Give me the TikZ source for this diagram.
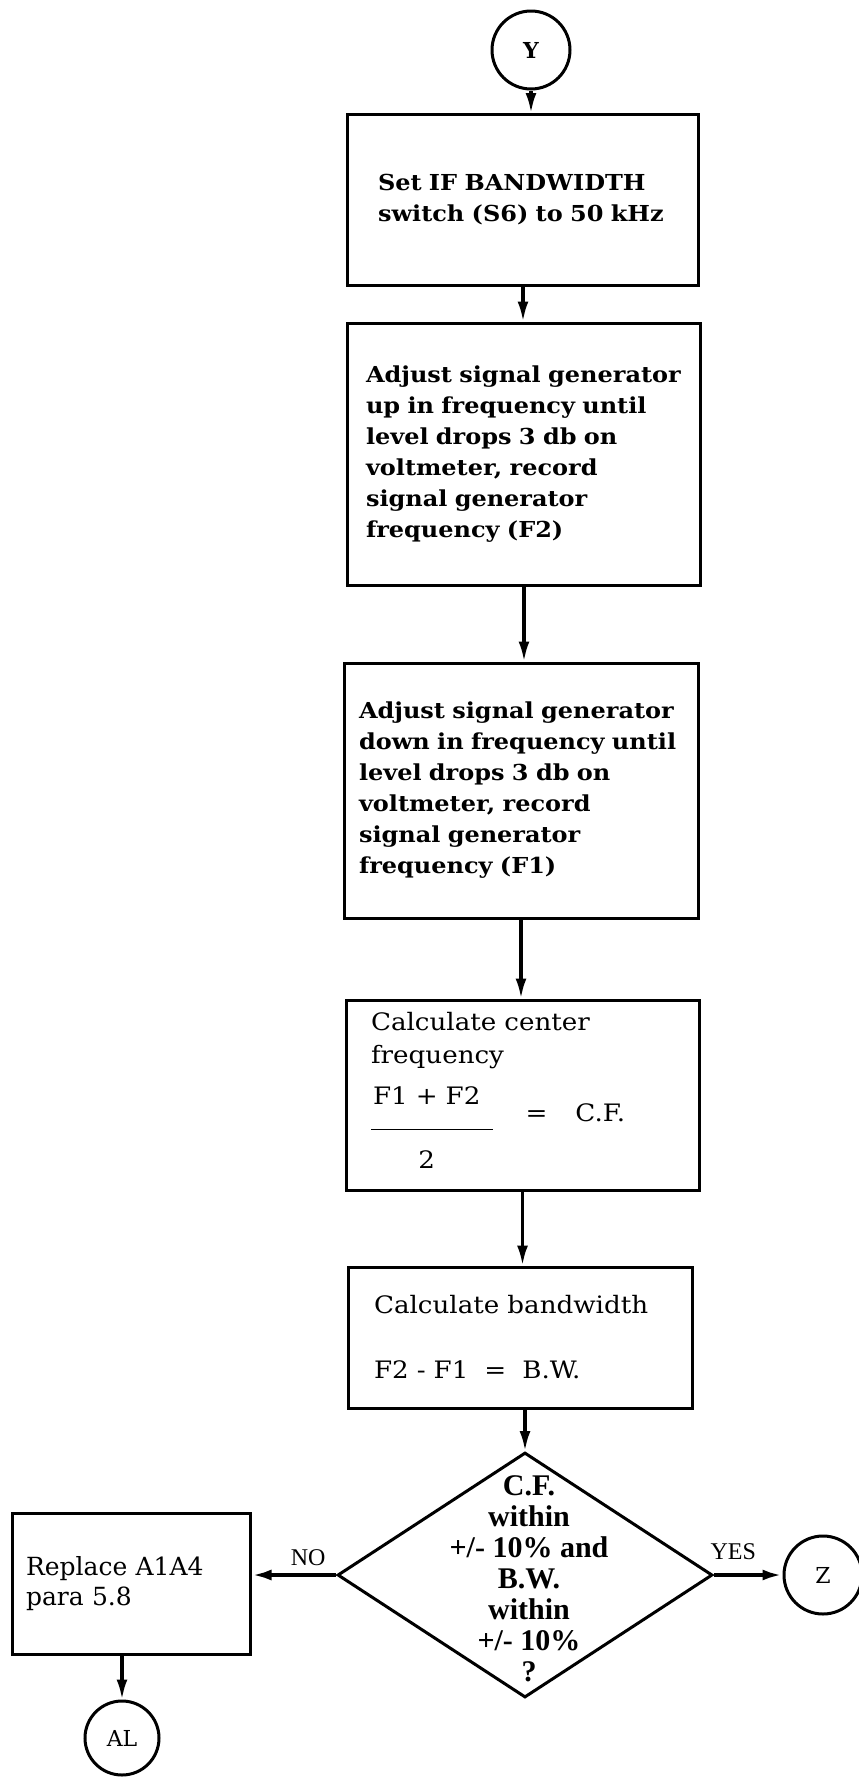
\documentclass[tikz,border=0pt]{standalone}
\usepackage{fontspec}
\setmainfont{DejaVu Serif}
\newfontfamily\widefont[FakeStretch=1.09]{DejaVu Serif}
\newfontfamily\timesfont{Liberation Serif}
\usetikzlibrary{shapes.geometric, arrows.meta}
\tikzset{
	process/.style={rectangle, draw=black, line width=1.5pt, align=left, inner sep=0pt, font=\widefont\bfseries\fontsize{11}{15.5}\selectfont},
	calcbox/.style={process, font=\widefont\fontsize{12}{16.5}\selectfont},
	decision/.style={diamond, draw=black, line width=1.5pt, inner sep=0pt},
	connector/.style={circle, draw=black, line width=1.5pt, inner sep=0pt, font=\bfseries\fontsize{11}{13}\selectfont},
	arrow/.style={line width=1.6pt,->,>={Latex[length=10pt,width=5.5pt]}},
	thickarrow/.style={arrow, line width=2.2pt}
}
\usetikzlibrary{positioning}

\begin{document}
\begin{tikzpicture}[x=0.5pt, y=-0.5pt]
		\useasboundingbox (0,0) rectangle (858,1778);
		
		% Conector de entrada
		\node[connector, minimum size=39pt] (y) at (531,50) {Y};
		
		% Passos do procedimento
		\node[process, minimum width=175.5pt, minimum height=85.5pt, text width=145pt] (setbw) at (523,200) {Set IF BANDWIDTH\\ switch (S6) to 50 kHz};
		\node[process, minimum width=176.5pt, minimum height=131pt, text width=158pt] (upf) at (524,454) {Adjust signal generator\\ up in frequency until\\ level drops 3 db on\\ voltmeter, record\\ signal generator\\ frequency (F2)};
		\node[process, minimum width=177pt, minimum height=127.5pt, text width=162pt] (downf) at (521,790.5) {Adjust signal generator\\ down in frequency until\\ level drops 3 db on\\ voltmeter, record\\ signal generator\\ frequency (F1)};
		\node[calcbox, minimum width=176.5pt, minimum height=95pt, text width=151.5pt] (calccf) at (522.5,1095) {Calculate center\\ frequency\\[4pt]
			\begin{tabular}[t]{@{\hspace{1pt}}c@{\hspace{6pt}}}F1 + F2\\[7.5pt]\hline\rule{0pt}{19pt}2\end{tabular}\hspace{16.5pt}\raisebox{-8.5pt}{=\hspace{14pt}C.F.}};
		\node[calcbox, minimum width=172pt, minimum height=70.5pt, text width=146pt] (calcbw) at (520,1337.5) {Calculate bandwidth\\[16pt] F2 - F1\ \ =\ \ B.W.};
		
		% Decisao
		\node[decision, minimum width=187.5pt, minimum height=122.5pt,
			label={[font=\timesfont\bfseries\fontsize{15}{15.5}\selectfont, align=center, yshift=-2pt, xshift=2pt]center:C.F.\\ within\\ +/- 10\% and\\ B.W.\\ within\\ +/- 10\%\\ ?}] (chk) at (525,1575) {};
		
		% Ramos da decisao
		\node[calcbox, font=\fontsize{12.5}{15}\selectfont, minimum width=119pt, minimum height=70.5pt, text width=105pt] (repl) at (131,1583.5) {Replace A1A4\\ para 5.8};
		\node[connector, minimum size=39pt, font=\fontsize{11}{13}\selectfont] (z) at (823,1575) {Z};
		\node[connector, minimum size=37pt, font=\fontsize{11}{13}\selectfont] (al) at (122,1738) {AL};
		
		% Setas
		\draw[arrow] (y) -- (y |- setbw.north);
		\draw[arrow] (setbw.south) -- (setbw.south |- upf.north);
		\draw[arrow] (upf.south) -- (upf.south |- downf.north);
		\draw[arrow] (downf.south) -- (downf.south |- calccf.north);
		\draw[arrow] (calccf.south) -- (calccf.south |- calcbw.north);
		\draw[arrow] (calcbw.south -| chk.north) -- (chk.north);
		\draw[thickarrow] (chk.west) -- node[above, pos=0.33, font=\timesfont\fontsize{12}{14}\selectfont] {NO} (chk.west -| repl.east);
		\draw[thickarrow] (chk.east) -- node[above, pos=0.28, yshift=3pt, font=\timesfont\fontsize{12}{14}\selectfont] {YES} (chk.east -| z.west);
		\draw[arrow] (repl.south -| al.north) -- (al.north);
		
	\end{tikzpicture}
\end{document}
